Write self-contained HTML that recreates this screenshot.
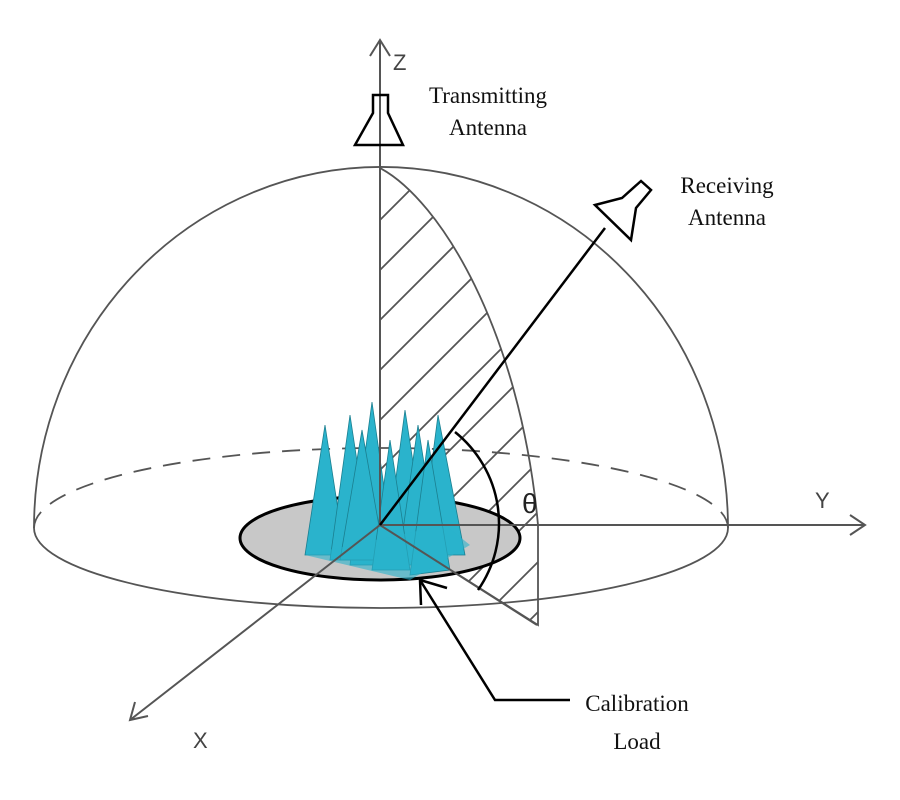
<!DOCTYPE html>
<html><head><meta charset="utf-8"><style>html,body{margin:0;padding:0;background:#fff}svg{display:block}</style></head>
<body>
<svg width="900" height="800" viewBox="0 0 900 800" xmlns="http://www.w3.org/2000/svg">
<defs>
<clipPath id="hc">
<path d="M380,168 C440,200 520,330 538,525 L538,625 L380,525 Z"/>
</clipPath>
</defs>
<g clip-path="url(#hc)" stroke="#555" stroke-width="1.8">
<line x1="300" y1="300" x2="500" y2="100"/>
<line x1="300" y1="350" x2="560" y2="90"/>
<line x1="300" y1="400" x2="600" y2="100"/>
<line x1="300" y1="450" x2="620" y2="130"/>
<line x1="300" y1="500" x2="640" y2="160"/>
<line x1="300" y1="550" x2="650" y2="200"/>
<line x1="300" y1="600" x2="650" y2="250"/>
<line x1="300" y1="650" x2="650" y2="300"/>
<line x1="300" y1="700" x2="650" y2="350"/>
<line x1="300" y1="750" x2="650" y2="400"/>
<line x1="300" y1="800" x2="650" y2="450"/>
<line x1="350" y1="800" x2="650" y2="500"/>
<line x1="400" y1="800" x2="650" y2="550"/>
</g>
<path d="M380,168 C440,200 520,330 538,525 L538,625 L380,525" fill="none" stroke="#555" stroke-width="1.8"/>
<path d="M34,528 A346,360 0 0 1 728,528" fill="none" stroke="#555" stroke-width="1.8"/>
<path d="M34,528 A347,80 0 0 0 728,528" fill="none" stroke="#555" stroke-width="1.8"/>
<path d="M34,528 A347,80 0 0 1 728,528" fill="none" stroke="#555" stroke-width="1.8" stroke-dasharray="18,12"/>
<ellipse cx="380" cy="538" rx="140" ry="42" fill="#c8c8c8" stroke="#000" stroke-width="3"/>
<g fill="#2ab3cc" stroke="#1b7f90" stroke-width="0.8">
<polygon points="325,425 305,555 345,555"/>
<polygon points="350,415 330,560 372,560"/>
<polygon points="372,402 350,565 395,565"/>
<polygon points="362,430 340,560 385,560"/>
<polygon points="405,410 385,560 428,560"/>
<polygon points="418,425 398,565 440,565"/>
<polygon points="438,415 420,555 465,555"/>
<polygon points="390,440 372,570 410,570"/>
<polygon points="428,440 410,575 450,570"/>
</g>
<polygon points="305,555 410,580 470,545 445,525" fill="#2ab3cc" opacity="0.6"/>
<g stroke="#555" stroke-width="2" fill="none">
<line x1="380" y1="40" x2="380" y2="525"/>
<polyline points="370,56 380,40 390,56"/>
<line x1="380" y1="525" x2="865" y2="525"/>
<polyline points="850,515 865,525 850,535"/>
<line x1="380" y1="525" x2="130" y2="720"/>
<polyline points="135,702 130,720 148,716"/>
<line x1="380" y1="525" x2="537" y2="625"/>
</g>
<line x1="380" y1="525" x2="605" y2="228" stroke="#000" stroke-width="2.5"/>
<path d="M455,432 A120,118 0 0 1 478,590" fill="none" stroke="#000" stroke-width="2.5"/>
<path d="M373,95 L388,95 L388,113 L403,145 L355,145 L373,113 Z" fill="none" stroke="#000" stroke-width="2.5"/>
<path d="M595,205 L622,198 L641,181 L651,190 L636,208 L631,240 Z" fill="none" stroke="#000" stroke-width="2.5"/>
<polyline points="420,580 495,700 570,700" fill="none" stroke="#000" stroke-width="2.5"/>
<polyline points="421,605 420,580 447,588" fill="none" stroke="#000" stroke-width="2.5"/>
<g font-family="Liberation Sans, sans-serif" fill="#444">
<text x="393" y="70" font-size="22">Z</text>
<text x="815" y="508" font-size="22">Y</text>
<text x="193" y="748" font-size="22">X</text>
<text x="522" y="513" font-size="28" fill="#222">θ</text>
</g>
<g font-family="Liberation Serif, serif" font-size="23" fill="#111" text-anchor="middle">
<text x="488" y="103">Transmitting</text>
<text x="488" y="135">Antenna</text>
<text x="727" y="193">Receiving</text>
<text x="727" y="225">Antenna</text>
<text x="637" y="711">Calibration</text>
<text x="637" y="749">Load</text>
</g>
</svg>
</body></html>
